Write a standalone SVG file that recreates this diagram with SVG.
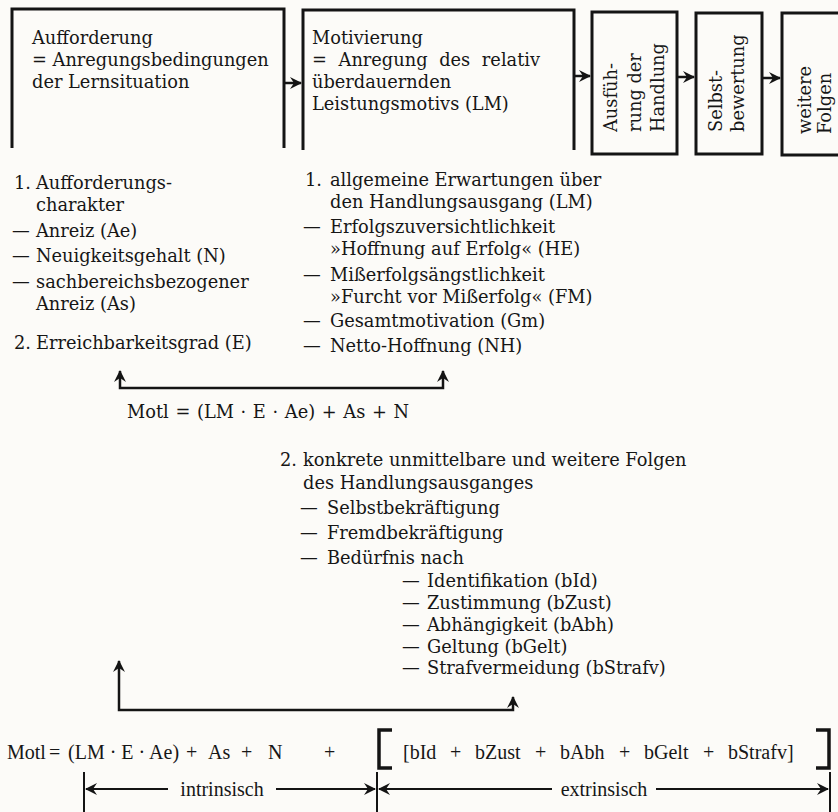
<svg xmlns="http://www.w3.org/2000/svg" width="838" height="812" viewBox="0 0 838 812">
<defs>
<style>
.t{font-family:"DejaVu Serif","Liberation Serif",serif;font-size:17.8px;fill:#161616}
.f{font-family:"Liberation Serif","DejaVu Serif",serif;font-size:20px;fill:#161616}
.box{fill:none;stroke:#141414;stroke-width:3}
.br{fill:none;stroke:#141414;stroke-width:3.5}
.ln{fill:none;stroke:#141414;stroke-width:2.5}
.dim{fill:none;stroke:#141414;stroke-width:2}
</style>
<marker id="ah" markerUnits="userSpaceOnUse" markerWidth="14" markerHeight="14" refX="11" refY="6" orient="auto-start-reverse" viewBox="0 0 14 12">
<path d="M0,0 L12,6 L0,12 L4,6 Z" fill="#141414"/>
</marker>
</defs>
<rect width="838" height="812" fill="#fcfbf8"/>

<g id="box-aufforderung">
<path class="box" d="M12,148 V9 H284 V148"/>
<text class="t" x="32" y="44">Aufforderung</text>
<text class="t" x="32" y="66">= Anregungsbedingungen</text>
<text class="t" x="32" y="88">der Lernsituation</text>
</g>

<g id="box-motivierung">
<path class="box" d="M303,150 V10 H574 V150"/>
<text class="t" x="312" y="44">Motivierung</text>
<text class="t" x="312" y="66" word-spacing="6">= Anregung des relativ</text>
<text class="t" x="312" y="88">überdauernden</text>
<text class="t" x="312" y="110">Leistungsmotivs (LM)</text>
</g>

<g id="box-ausfuehrung">
<rect class="box" x="592" y="12" width="85" height="142"/>
<text class="t" transform="translate(617,132) rotate(-90)">Ausfüh-</text>
<text class="t" transform="translate(641,132) rotate(-90)">rung der</text>
<text class="t" transform="translate(664,132) rotate(-90)">Handlung</text>
</g>

<g id="box-selbstbewertung">
<rect class="box" x="696" y="13" width="66" height="141"/>
<text class="t" transform="translate(722,132) rotate(-90)">Selbst-</text>
<text class="t" transform="translate(744,132) rotate(-90)">bewertung</text>
</g>

<g id="box-folgen">
<rect class="box" x="782" y="13" width="60" height="142"/>
<text class="t" transform="translate(811,134) rotate(-90)">weitere</text>
<text class="t" transform="translate(831,134) rotate(-90)">Folgen</text>
</g>

<g id="list-aufforderung">
<text class="t" x="14" y="189">1.</text><text class="t" x="36" y="189">Aufforderungs-</text>
<text class="t" x="36" y="211">charakter</text>
<text class="t" x="12" y="237">—</text><text class="t" x="36" y="237">Anreiz (Ae)</text>
<text class="t" x="12" y="262">—</text><text class="t" x="36" y="262">Neuigkeitsgehalt (N)</text>
<text class="t" x="12" y="288">—</text><text class="t" x="36" y="288">sachbereichsbezogener</text>
<text class="t" x="36" y="310">Anreiz (As)</text>
<text class="t" x="14" y="349">2.</text><text class="t" x="36" y="349">Erreichbarkeitsgrad (E)</text>
</g>

<g id="list-motivierung">
<text class="t" x="305" y="186">1.</text><text class="t" x="330" y="186">allgemeine Erwartungen über</text>
<text class="t" x="330" y="208">den Handlungsausgang (LM)</text>
<text class="t" x="303" y="233">—</text><text class="t" x="330" y="233">Erfolgszuversichtlichkeit</text>
<text class="t" x="330" y="255">»Hoffnung auf Erfolg« (HE)</text>
<text class="t" x="303" y="281">—</text><text class="t" x="330" y="281">Mißerfolgsängstlichkeit</text>
<text class="t" x="330" y="303">»Furcht vor Mißerfolg« (FM)</text>
<text class="t" x="303" y="327">—</text><text class="t" x="330" y="327">Gesamtmotivation (Gm)</text>
<text class="t" x="303" y="352">—</text><text class="t" x="330" y="352">Netto-Hoffnung (NH)</text>
</g>

<g id="formula-1">
<text class="t" x="127" y="418" word-spacing="1">Motl = (LM · E · Ae) + As + N</text>
</g>

<g id="list-folgen">
<text class="t" x="280" y="466">2.</text><text class="t" x="303" y="466">konkrete unmittelbare und weitere Folgen</text>
<text class="t" x="303" y="489">des Handlungsausganges</text>
<text class="t" x="300" y="514">—</text><text class="t" x="327" y="514">Selbstbekräftigung</text>
<text class="t" x="300" y="539">—</text><text class="t" x="327" y="539">Fremdbekräftigung</text>
<text class="t" x="300" y="564">—</text><text class="t" x="327" y="564">Bedürfnis nach</text>
<text class="t" x="402" y="587">—</text><text class="t" x="427" y="587">Identifikation (bId)</text>
<text class="t" x="402" y="609">—</text><text class="t" x="427" y="609">Zustimmung (bZust)</text>
<text class="t" x="402" y="631">—</text><text class="t" x="427" y="631">Abhängigkeit  (bAbh)</text>
<text class="t" x="402" y="653">—</text><text class="t" x="427" y="653">Geltung  (bGelt)</text>
<text class="t" x="402" y="674">—</text><text class="t" x="427" y="674">Strafvermeidung (bStrafv)</text>
</g>

<g id="formula-2">
<text class="f" y="759"><tspan x="7">Motl</tspan><tspan x="49">=</tspan><tspan x="68">(LM · E · Ae)</tspan><tspan x="186">+</tspan><tspan x="208">As</tspan><tspan x="241">+</tspan><tspan x="268">N</tspan><tspan x="324">+</tspan></text>
<path class="br" d="M392,730 H379 V768 H392"/>
<text class="f" y="759"><tspan x="403">[bId</tspan><tspan x="450">+</tspan><tspan x="475">bZust</tspan><tspan x="535">+</tspan><tspan x="560">bAbh</tspan><tspan x="619">+</tspan><tspan x="644">bGelt</tspan><tspan x="703">+</tspan><tspan x="728">bStrafv]</tspan></text>
<path class="br" d="M816,730 H829 V768 H816"/>
</g>

<g id="dimension">
<path class="dim" d="M84,772 V812 M377,772 V812 M830,772 V812"/>
<text class="f" font-size="21" x="222" y="796" text-anchor="middle">intrinsisch</text>
<text class="f" font-size="21" x="604" y="796" text-anchor="middle">extrinsisch</text>
</g>

<g id="connectors">
<path class="ln" d="M284,83 H301" marker-end="url(#ah)"/>
<path class="ln" d="M574,76 H590" marker-end="url(#ah)"/>
<path class="ln" d="M677,77 H694" marker-end="url(#ah)"/>
<path class="ln" d="M762,78 H780" marker-end="url(#ah)"/>
<path class="ln" d="M120,371 V388 H443 V371" marker-start="url(#ah)" marker-end="url(#ah)"/>
<path class="ln" d="M119,661 V710 H513 V697" marker-start="url(#ah)" marker-end="url(#ah)"/>
<path class="dim" d="M86,789 H168" marker-start="url(#ah)"/>
<path class="dim" d="M276,789 H375" marker-end="url(#ah)"/>
<path class="dim" d="M379,789 H552" marker-start="url(#ah)"/>
<path class="dim" d="M656,789 H828" marker-end="url(#ah)"/>
</g>
</svg>
